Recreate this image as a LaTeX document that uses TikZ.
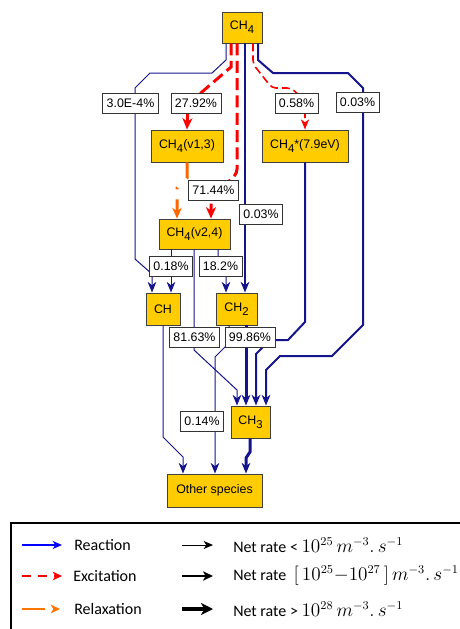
\documentclass[tikz,border=0pt]{standalone}
\usepackage{fontspec}
\setmainfont{Liberation Sans}
\newfontfamily\legendfont{Carlito}
\usetikzlibrary{arrows.meta}
\definecolor{speciesfill}{RGB}{255,204,0}
\definecolor{reactblue}{RGB}{20,20,140}
\definecolor{excitered}{RGB}{255,0,0}
\definecolor{relaxorange}{RGB}{255,102,0}
\newcommand{\lowidx}[1]{\raisebox{-0.6ex}{\fontsize{8.5}{10}\selectfont #1}}
\newcommand{\ratemath}[1]{{\fontsize{13.5}{15}\selectfont$#1$}}

\begin{document}
\begin{tikzpicture}[
        x=0.75pt, y=-0.75pt,
        species/.style={rectangle, draw=black!75, line width=0.7pt, fill=speciesfill, minimum height=24pt, inner sep=1pt, font=\fontsize{9.3}{11}\selectfont},
        ratio/.style={rectangle, draw=black!80, line width=0.6pt, fill=white, minimum height=15pt, inner xsep=3pt, inner ysep=0pt, font=\fontsize{9.3}{11}\selectfont},
        navytip/.style={-{Stealth[length=8pt, width=6.5pt, inset=2.5pt]}},
        thinreact/.style={draw=reactblue, line width=0.75pt, navytip},
        midreact/.style={draw=reactblue, line width=1.5pt, navytip},
        thickreact/.style={draw=reactblue, line width=2.25pt, navytip},
        thickexcite/.style={draw=excitered, line width=2.25pt, dash pattern=on 9pt off 4pt, -{Stealth[length=8.5pt, width=7.5pt, inset=2.5pt]}},
        thinexcite/.style={draw=excitered, line width=1.2pt, dash pattern=on 6pt off 3pt, -{Stealth[length=7.5pt, width=6pt, inset=2pt]}},
        relax/.style={draw=relaxorange, line width=2.25pt, -{Stealth[length=8pt, width=7pt, inset=2.5pt]}},
        legtext/.style={anchor=west, inner sep=0pt, font=\legendfont\fontsize{12}{14}\selectfont},
    ]
        \useasboundingbox (0,0) rectangle (460,629);
        \clip (0,0) rectangle (460,629);

        % Species
        \node[species, minimum width=30pt, minimum height=23.25pt] (ch4) at (242,27.5) {CH\lowidx{4}};
        \node[species, minimum width=54pt] (v13) at (187,146) {CH\lowidx{4}(v1,3)};
        \node[species, minimum width=64.5pt] (ch4star) at (305,146) {CH\lowidx{4}*(7.9eV)};
        \node[species, minimum width=53.25pt, minimum height=22.5pt] (v24) at (194.5,234) {CH\lowidx{4}(v2,4)};
        \node[species, minimum width=25.5pt] (ch) at (163,309) {CH};
        \node[species, minimum width=30.75pt] (chtwo) at (236.5,309) {CH\lowidx{2}};
        \node[species, minimum width=29.25pt] (chthree) at (250.5,422) {CH\lowidx{3}};
        \node[species, minimum width=71.25pt, minimum height=24.75pt] (other) at (214.5,490.5) {Other species};

        % From CH4
        \draw[thinreact] (ch4.south -| 226,0) -- (226,60) -- (212,73) -- (150,73) -- (135,88) -- (135,259) -- (152,274) -- (ch.north -| 152,0);
        \draw[thickexcite] (ch4.south -| 231,0) -- (231,67) -- (188,104) -- (v13.north -| 187,0);
        \draw[thickexcite, rounded corners=3pt] (ch4.south -| 237,0) -- (237,173) -- (230,181) -- (211,190) -- (v24.north -| 211,0);
        \draw[midreact] (ch4.south -| 245,0) -- (chtwo.north -| 245,0);
        \draw[thinexcite, rounded corners=3pt] (ch4.south -| 253,0) -- (253,64) -- (272,88) -- (291,88) -- (300,96) -- (305,104) -- (ch4star.north -| 305,0);
        \draw[midreact] (ch4.south -| 258,0) -- (258,60) -- (273,73) -- (348,73) -- (363,88) -- (363,325) -- (332,356) -- (280,356) -- (266,370) -- (chthree.north -| 266,0);

        % Relaxation
        \draw[relax, dash pattern=on 12pt off 9.75pt on 1.5pt off 7.5pt on 40pt] (v13.south -| 187,0) -- (187,178) -- (177,188) -- (v24.north -| 177,0);

        % From CH4(v2,4)
        \draw[thinreact] (v24.south -| 171,0) -- (ch.north -| 171,0);
        \draw[thinreact] (v24.south -| 218,0) -- (218,262) -- (226,270) -- (chtwo.north -| 226,0);
        \draw[thinreact] (v24.south -| 194,0) -- (194,350) -- (237,390) -- (chthree.north -| 237,0);

        % From CH2, CH, CH4*, CH3
        \draw[thickreact] (chtwo.south -| 246,0) -- (chthree.north -| 246,0);
        \draw[thinreact] (chtwo.south -| 229,0) -- (229,343) -- (215,357) -- (other.north -| 215,0);
        \draw[thinreact] (ch.south -| 163,0) -- (163,437) -- (183,457) -- (other.north -| 183,0);
        \draw[midreact] (ch4star.south -| 305,0) -- (305,322) -- (288,340) -- (270,340) -- (256,354) -- (chthree.north -| 256,0);
        \draw[thickreact] (chthree.south -| 250,0) -- (250,452) -- (246,458) -- (other.north -| 246,0);

        % Ratios
        \node[ratio] (l3e4) at (130.5,103) {3.0E-4\%};
        \node[ratio] (l2792) at (196,103) {27.92\%};
        \node[ratio] (l058) at (296.5,103) {0.58\%};
        \node[ratio] (l003b) at (357.5,102.5) {0.03\%};
        \node[ratio] (l7144) at (213.5,190) {71.44\%};
        \node[ratio] (l003a) at (261,214) {0.03\%};
        \node[ratio] (l018) at (171,266) {0.18\%};
        \node[ratio] (l182) at (220.5,266) {18.2\%};
        \node[ratio] (l8163) at (194.5,337) {81.63\%};
        \node[ratio] (l9986) at (250,337) {99.86\%};
        \node[ratio] (l014) at (202,421.5) {0.14\%};

        % Legend
        \draw[line width=0.9pt] (11,523) rectangle (475,640);
        \coordinate (reacta) at (22,545);
        \coordinate (reactb) at (62,545);
        \coordinate (excita) at (22,576);
        \coordinate (excitb) at (62,576);
        \coordinate (relaxa) at (22,609);
        \coordinate (relaxb) at (60,609);
        \draw[blue, line width=1.5pt, -{Stealth[length=7pt, width=6pt, inset=2pt]}] (reacta) -- (reactb);
        \draw[excitered, line width=2pt, dash pattern=on 7pt off 5pt, -{Stealth[length=7pt, width=6.5pt, inset=2pt]}] (excita) -- (excitb);
        \draw[relaxorange!90!yellow, line width=1.8pt, dash pattern=on 17pt off 20pt, -{Stealth[length=7pt, width=6.5pt, inset=2pt]}] (relaxa) -- (relaxb);
        \node[legtext] (treact) at (74,545) {Reaction};
        \node[legtext] (texcit) at (73,576) {Excitation};
        \node[legtext] (trelax) at (74,609) {Relaxation};

        \coordinate (ratea) at (182,545);
        \coordinate (rateb) at (213,545);
        \coordinate (ratec) at (182,576);
        \coordinate (rated) at (213,576);
        \coordinate (ratee) at (182,609);
        \coordinate (ratef) at (213,609);
        \draw[line width=0.75pt, -{Stealth[length=7pt, width=6pt, inset=2pt]}] (ratea) -- (rateb);
        \draw[line width=1.5pt, -{Stealth[length=7.5pt, width=7pt, inset=2pt]}] (ratec) -- (rated);
        \draw[line width=3pt, -{Stealth[length=9pt, width=9pt, inset=2.5pt]}] (ratee) -- (ratef);
        \node[legtext] (tlow) at (233,545) {Net rate < \ratemath{10^{25}\,m^{-3}.\,s^{-1}}};
        \node[legtext] (tmid) at (233,576) {Net rate\ \ \ratemath{[\,10^{25}{-}10^{27}\,]\,m^{-3}.\,s^{-1}}};
        \node[legtext] (thigh) at (233,609) {Net rate > \ratemath{10^{28}\,m^{-3}.\,s^{-1}}};
    \end{tikzpicture}
\end{document}
